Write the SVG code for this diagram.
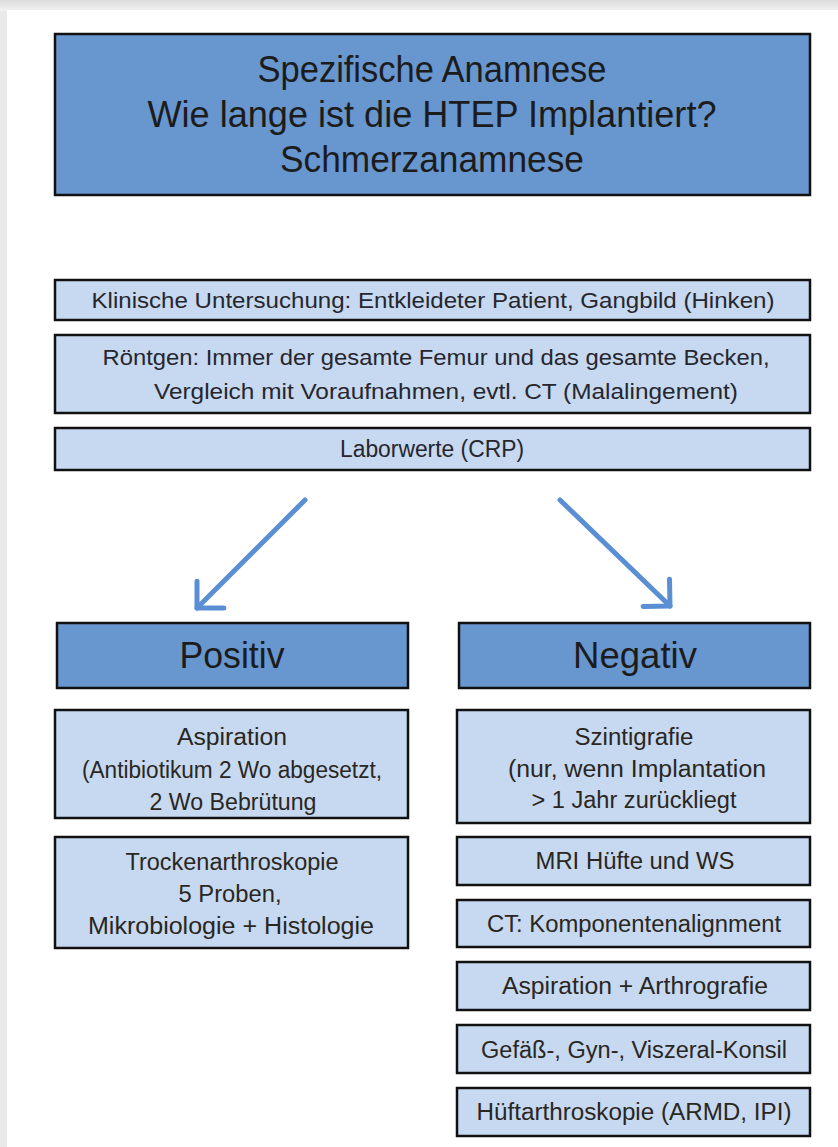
<svg xmlns="http://www.w3.org/2000/svg" width="838" height="1147" viewBox="0 0 838 1147">
  <defs>
    <style>
      .dark { fill: #6896cf; stroke: #111; stroke-width: 2.5; }
      .light { fill: #c6d9f0; stroke: #111; stroke-width: 2.5; }
      text { font-family: "Liberation Sans", Arial, sans-serif; fill: #1c1c1c; text-anchor: middle; }
      .t1 { font-size: 36px; }
      .t2 { font-size: 22.5px; fill: #26262e; }
      .t2b { font-size: 23px; fill: #26262e; }
      .t3 { font-size: 36px; }
      .t4 { font-size: 23px; fill: #2a2622; }
      .arrow { stroke: #5a8fd4; stroke-width: 5; fill: none; stroke-linecap: round; marker-end: url(#head); }
    </style>
    <marker id="head" markerUnits="userSpaceOnUse" markerWidth="60" markerHeight="60" refX="0" refY="0" orient="auto" overflow="visible">
      <path d="M -19 -19 L 0 0 L -19 19" fill="none" stroke="#5a8fd4" stroke-width="5" stroke-linecap="round" stroke-linejoin="round"/>
    </marker>
    <linearGradient id="topShade" x1="0" y1="0" x2="0" y2="1">
      <stop offset="0" stop-color="#dcdcdc"/>
      <stop offset="1" stop-color="#f2f2f2"/>
    </linearGradient>
  </defs>

  <rect x="0" y="0" width="838" height="1147" fill="#e9e9e9"/>
  <rect x="0" y="0" width="838" height="11" fill="url(#topShade)"/>
  <rect x="7" y="10" width="831" height="1137" fill="#ffffff"/>

  <g id="node-anamnese">
    <rect class="dark" x="55" y="34" width="755" height="161"/>
    <text class="t1" x="432" y="82" textLength="349" lengthAdjust="spacingAndGlyphs">Spezifische Anamnese</text>
    <text class="t1" x="432" y="127" textLength="569" lengthAdjust="spacingAndGlyphs">Wie lange ist die HTEP Implantiert?</text>
    <text class="t1" x="432" y="172" textLength="304" lengthAdjust="spacingAndGlyphs">Schmerzanamnese</text>
  </g>

  <g id="node-klinisch">
    <rect class="light" x="55" y="280" width="755" height="40"/>
    <text class="t2" x="433" y="308" textLength="683" lengthAdjust="spacingAndGlyphs">Klinische Untersuchung: Entkleideter Patient, Gangbild (Hinken)</text>
  </g>

  <g id="node-roentgen">
    <rect class="light" x="55" y="335" width="755" height="78"/>
    <text class="t2" x="436" y="365" textLength="667" lengthAdjust="spacingAndGlyphs">Röntgen: Immer der gesamte Femur und das gesamte Becken,</text>
    <text class="t2" x="446" y="399" textLength="584" lengthAdjust="spacingAndGlyphs">Vergleich mit Voraufnahmen, evtl. CT (Malalingement)</text>
  </g>

  <g id="node-labor">
    <rect class="light" x="55" y="428" width="755" height="42"/>
    <text class="t2b" x="432" y="457" textLength="184" lengthAdjust="spacingAndGlyphs">Laborwerte (CRP)</text>
  </g>

  <g id="connectors">
    <line class="arrow" x1="305" y1="500" x2="197" y2="608"/>
    <line class="arrow" x1="560" y1="500" x2="670" y2="606"/>
  </g>

  <g id="node-positiv">
    <rect class="dark" x="57" y="623" width="351" height="65"/>
    <text class="t3" x="232" y="668" textLength="105" lengthAdjust="spacingAndGlyphs">Positiv</text>
  </g>

  <g id="node-negativ">
    <rect class="dark" x="459" y="623" width="351" height="65"/>
    <text class="t3" x="635" y="668" textLength="124" lengthAdjust="spacingAndGlyphs">Negativ</text>
  </g>

  <g id="node-aspiration">
    <rect class="light" x="55" y="710" width="353" height="108"/>
    <text class="t4" x="232" y="745" textLength="110" lengthAdjust="spacingAndGlyphs">Aspiration</text>
    <text class="t4" x="232" y="778" textLength="300" lengthAdjust="spacingAndGlyphs">(Antibiotikum 2 Wo abgesetzt,</text>
    <text class="t4" x="233" y="810" textLength="167" lengthAdjust="spacingAndGlyphs">2 Wo Bebrütung</text>
  </g>

  <g id="node-trockenarthroskopie">
    <rect class="light" x="55" y="837" width="353" height="111"/>
    <text class="t4" x="232" y="870" textLength="213" lengthAdjust="spacingAndGlyphs">Trockenarthroskopie</text>
    <text class="t4" x="230" y="902" textLength="103" lengthAdjust="spacingAndGlyphs">5 Proben,</text>
    <text class="t4" x="231" y="934" textLength="286" lengthAdjust="spacingAndGlyphs">Mikrobiologie + Histologie</text>
  </g>

  <g id="node-szintigrafie">
    <rect class="light" x="457" y="710" width="353" height="113"/>
    <text class="t4" x="634" y="745" textLength="119" lengthAdjust="spacingAndGlyphs">Szintigrafie</text>
    <text class="t4" x="637" y="777" textLength="258" lengthAdjust="spacingAndGlyphs">(nur, wenn Implantation</text>
    <text class="t4" x="634" y="808" textLength="205" lengthAdjust="spacingAndGlyphs">&gt; 1 Jahr zurückliegt</text>
  </g>

  <g id="node-mri">
    <rect class="light" x="457" y="837" width="353" height="48"/>
    <text class="t4" x="635" y="869" textLength="199" lengthAdjust="spacingAndGlyphs">MRI Hüfte und WS</text>
  </g>

  <g id="node-ct">
    <rect class="light" x="457" y="900" width="353" height="47"/>
    <text class="t4" x="634" y="932" textLength="294" lengthAdjust="spacingAndGlyphs">CT: Komponentenalignment</text>
  </g>

  <g id="node-arthrografie">
    <rect class="light" x="457" y="962" width="353" height="48"/>
    <text class="t4" x="635" y="994" textLength="266" lengthAdjust="spacingAndGlyphs">Aspiration + Arthrografie</text>
  </g>

  <g id="node-konsil">
    <rect class="light" x="457" y="1025" width="353" height="48"/>
    <text class="t4" x="634" y="1058" textLength="306" lengthAdjust="spacingAndGlyphs">Gefäß-, Gyn-, Viszeral-Konsil</text>
  </g>

  <g id="node-hueftarthroskopie">
    <rect class="light" x="457" y="1088" width="353" height="48"/>
    <text class="t4" x="634" y="1120" textLength="315" lengthAdjust="spacingAndGlyphs">Hüftarthroskopie  (ARMD, IPI)</text>
  </g>
</svg>
